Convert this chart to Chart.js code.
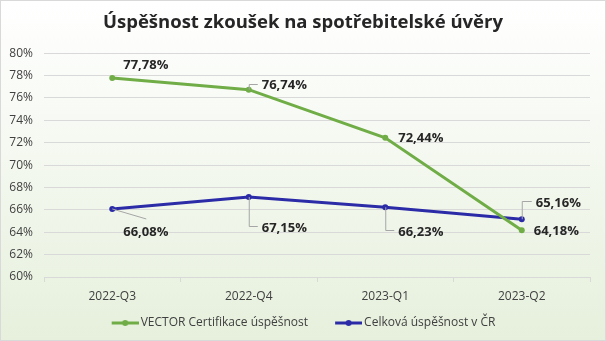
<!DOCTYPE html>
<html>
<head>
<meta charset="utf-8">
<script src="https://cdn.jsdelivr.net/npm/chart.js@4/dist/chart.umd.min.js"></script>
<style>
  html, body { margin: 0; padding: 0; background: #fff; }
  #wrap { width: 606px; height: 341px; }
</style>
</head>
<body>
<div id="wrap"><canvas id="chart" width="606" height="341"></canvas></div>
<script>
  // ----- data
  const categories = ['2022-Q3', '2022-Q4', '2023-Q1', '2023-Q2'];
  const vectorValues = [77.78, 76.74, 72.44, 64.18];
  const totalValues = [66.08, 67.15, 66.23, 65.16];
  const seriesNames = ['VECTOR Certifikace úspěšnost', 'Celková úspěšnost v ČR'];
  const yTicks = [60, 62, 64, 66, 68, 70, 72, 74, 76, 78, 80];

  const GREEN = '#70AD47';
  const BLUE = '#2B2BA8';
  const FONT = '"Open Sans", "DejaVu Sans", sans-serif';

  // label placement: [dx, dy, leader type]
  const labelPos = [
    [[11, -13, null], [13, -4, 'up'], [13, 1, null], [12, 1, null]],
    [[11, 23, 'diag'], [13, 31, 'down'], [13, 25, 'down'], [14, -16, 'up']]
  ];

  // legend marker: line with dot, sitting on the right side of the box
  function legendMarker(color) {
    const c = document.createElement('canvas');
    c.width = 46; c.height = 8;
    const g = c.getContext('2d');
    g.strokeStyle = color; g.lineWidth = 3;
    g.beginPath(); g.moveTo(19, 4); g.lineTo(46, 4); g.stroke();
    g.fillStyle = color;
    g.beginPath(); g.arc(32.5, 4, 3, 0, Math.PI * 2); g.fill();
    return c;
  }

  const background = {
    id: 'background',
    afterLayout(chart) {
      // the marker box has empty space on its left, recentre the legend
      chart.legend.left -= 7;
      chart.legend.right -= 7;
    },
    beforeDraw(chart) {
      const ctx = chart.ctx;
      const grad = ctx.createLinearGradient(0, 0, 0, chart.height);
      grad.addColorStop(0, '#ffffff');
      grad.addColorStop(0.35, '#f7faf4');
      grad.addColorStop(1, '#e6f0dc');
      ctx.save();
      ctx.fillStyle = grad;
      ctx.fillRect(0, 0, chart.width, chart.height);
      ctx.strokeStyle = '#d9d9d9';
      ctx.lineWidth = 1;
      ctx.strokeRect(0.5, 0.5, chart.width - 1, chart.height - 1);
      ctx.restore();
    }
  };

  const dataLabels = {
    id: 'dataLabels',
    afterDatasetsDraw(chart) {
      const ctx = chart.ctx;
      ctx.save();
      ctx.font = 'bold 13px ' + FONT;
      ctx.textBaseline = 'middle';
      ctx.textAlign = 'left';
      chart.data.datasets.forEach((ds, di) => {
        const meta = chart.getDatasetMeta(di);
        meta.data.forEach((pt, i) => {
          const [dx, dy, leader] = labelPos[di][i];
          const tx = pt.x + dx, ty = pt.y + dy;
          ctx.strokeStyle = '#a6a6a6';
          ctx.lineWidth = 1;
          if (leader === 'up' || leader === 'down') {
            ctx.beginPath();
            ctx.moveTo(pt.x + 0.5, pt.y);
            ctx.lineTo(pt.x + 0.5, Math.round(ty) - 1.5);
            ctx.lineTo(tx - 4, Math.round(ty) - 1.5);
            ctx.stroke();
          } else if (leader === 'diag') {
            ctx.beginPath();
            ctx.moveTo(pt.x, pt.y);
            ctx.lineTo(pt.x + 34, pt.y + 10);
            ctx.stroke();
          }
          ctx.fillStyle = '#262626';
          ctx.fillText(ds.data[i].toFixed(2).replace('.', ',') + '%', tx, ty);
        });
      });
      ctx.restore();
    }
  };

  new Chart(document.getElementById('chart'), {
    type: 'line',
    data: {
      labels: categories,
      datasets: [{
        label: seriesNames[0],
        data: vectorValues,
        borderColor: GREEN,
        backgroundColor: GREEN,
        borderWidth: 3,
        pointRadius: 3,
        pointBackgroundColor: GREEN,
        pointBorderWidth: 0,
        tension: 0
      }, {
        label: seriesNames[1],
        data: totalValues,
        borderColor: BLUE,
        backgroundColor: BLUE,
        borderWidth: 3,
        pointRadius: 3,
        pointBackgroundColor: BLUE,
        pointBorderWidth: 0,
        tension: 0
      }]
    },
    options: {
      responsive: false,
      animation: false,
      layout: { padding: { left: 8, right: 8, top: 8, bottom: 2 } },
      elements: { point: { pointStyle: 'circle' } },
      plugins: {
        tooltip: { enabled: false },
        title: {
          display: true,
          text: 'Úspěšnost zkoušek na spotřebitelské úvěry',
          color: '#262626',
          font: { family: FONT, size: 18.5, weight: 'bold' },
          padding: { top: 4, bottom: 19 }
        },
        legend: {
          position: 'bottom',
          labels: {
            color: '#404040',
            font: { family: FONT, size: 12 },
            usePointStyle: true,
            pointStyleWidth: 38,
            padding: 12,
            generateLabels(chart) {
              return chart.data.datasets.map((ds, i) => ({
                text: ds.label,
                pointStyle: legendMarker(ds.borderColor),
                fillStyle: ds.borderColor,
                strokeStyle: ds.borderColor,
                lineWidth: 0,
                fontColor: '#404040',
                datasetIndex: i
              }));
            }
          }
        }
      },
      scales: {
        x: {
          offset: true,
          grid: { display: true, drawOnChartArea: false, tickLength: 5, color: '#d9d9d9', offset: true },
          border: { color: '#d9d9d9' },
          ticks: { color: '#404040', font: { family: FONT, size: 12 }, padding: 7 },
          afterFit(axis) { axis.height = 28; }
        },
        y: {
          min: 60,
          max: 80,
          afterBuildTicks(axis) { axis.ticks = yTicks.map(v => ({ value: v })); },
          grid: { color: '#d9d9d9', drawTicks: false },
          border: { display: false },
          ticks: {
            color: '#404040',
            font: { family: FONT, size: 12 },
            padding: 11,
            callback: v => v + '%'
          },
          afterFit(axis) { axis.width = 36; }
        },
        // empty right-hand spacer so the title stays centred on the canvas
        yRight: {
          type: 'linear',
          position: 'right',
          display: true,
          grid: { display: false, drawTicks: false },
          border: { display: false },
          ticks: { display: false },
          afterFit(axis) { axis.width = 8; }
        }
      }
    },
    plugins: [background, dataLabels]
  });
</script>
</body>
</html>
